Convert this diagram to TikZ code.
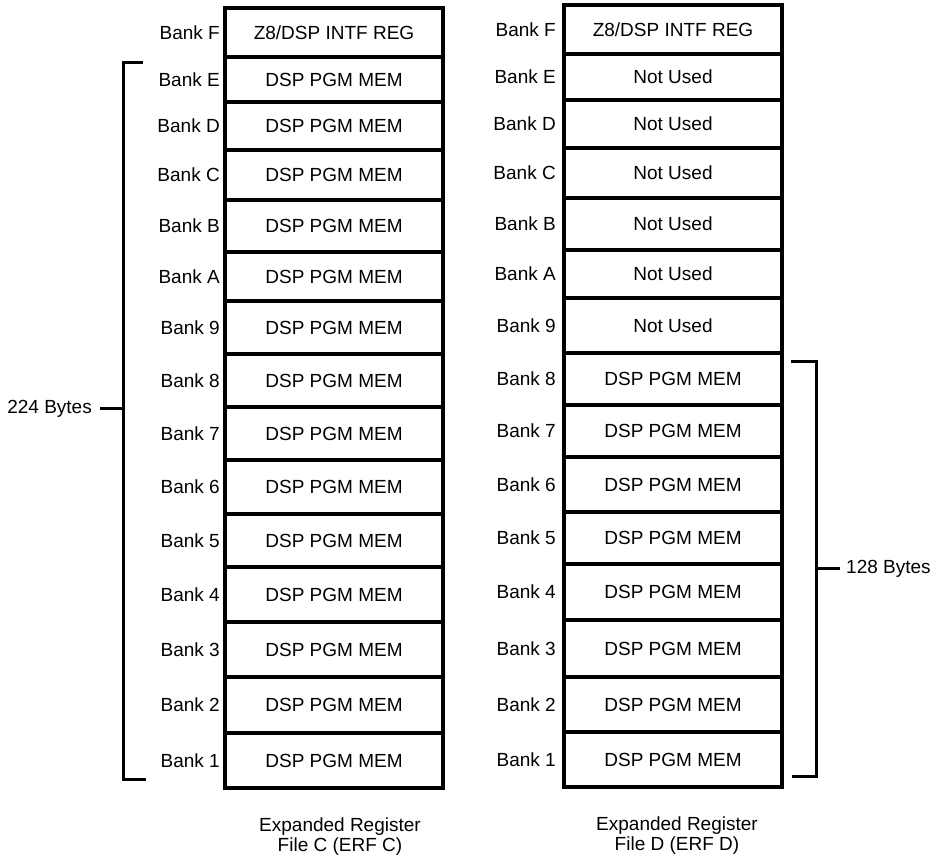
\documentclass[tikz,border=0pt]{standalone}
\usepackage{fontspec}
\setmainfont{Liberation Sans}
\usepackage{tikz}
\usetikzlibrary{positioning, calc}

\tikzset{
  cell/.style={draw, line width=3.2pt, inner sep=0pt, outer sep=0pt, minimum width=218pt, font=\fontsize{19}{20}\selectfont},
  banklabel/.style={inner sep=0pt, font=\fontsize{19}{20}\selectfont},
  brace/.style={line width=3pt},
  caption/.style={align=center, inner sep=0pt, font=\fontsize{19}{20}\selectfont},
}

\begin{document}
\begin{tikzpicture}[x=1pt, y=-1pt]
  \useasboundingbox (0,0) rectangle (938,858);

  % ERF C
  \foreach \b/\t/\ya/\yb in {F/{Z8/DSP INTF REG}/8/57, E/{DSP PGM MEM}/57/102, D/{DSP PGM MEM}/102/150,
      C/{DSP PGM MEM}/150/200, B/{DSP PGM MEM}/200/252, A/{DSP PGM MEM}/252/301, 9/{DSP PGM MEM}/301/354,
      8/{DSP PGM MEM}/354/407, 7/{DSP PGM MEM}/407/460, 6/{DSP PGM MEM}/460/514, 5/{DSP PGM MEM}/514/567,
      4/{DSP PGM MEM}/567/622, 3/{DSP PGM MEM}/622/677, 2/{DSP PGM MEM}/677/733, 1/{DSP PGM MEM}/733/788} {
    \pgfmathsetmacro{\h}{\yb-\ya}
    \node[cell, minimum height=\h pt] (c\b) at (334,{(\ya+\yb)/2}) {\t};
    \node[banklabel, left=5pt of c\b.west] (lc\b) {Bank \b};
  }

  % ERF D
  \foreach \b/\t/\ya/\yb in {F/{Z8/DSP INTF REG}/5/54, E/{Not Used}/54/100, D/{Not Used}/100/148,
      C/{Not Used}/148/198, B/{Not Used}/198/250, A/{Not Used}/250/298, 9/{Not Used}/298/353,
      8/{DSP PGM MEM}/353/405, 7/{DSP PGM MEM}/405/457, 6/{DSP PGM MEM}/457/512, 5/{DSP PGM MEM}/512/564,
      4/{DSP PGM MEM}/564/620, 3/{DSP PGM MEM}/620/677, 2/{DSP PGM MEM}/677/732, 1/{DSP PGM MEM}/732/787} {
    \pgfmathsetmacro{\h}{\yb-\ya}
    \node[cell, minimum height=\h pt] (d\b) at (673,{(\ya+\yb)/2}) {\t};
    \node[banklabel, left=8pt of d\b.west] (ld\b) {Bank \b};
  }

  % brackets
  \coordinate (cbtop) at (143,63);
  \coordinate (cbmid) at (123,409);
  \coordinate (cbbot) at (146,779);
  \coordinate (cbtick) at (100,409);
  \draw[brace] (cbtop) -| (cbmid) |- (cbbot);
  \draw[brace] (cbmid) -- (cbtick);
  \node[banklabel, left=8pt of cbtick] (bytesc) {224 Bytes};

  \coordinate (dbtop) at (791,362);
  \coordinate (dbmid) at (816,569);
  \coordinate (dbbot) at (792,776);
  \coordinate (dbtick) at (840,569);
  \draw[brace] (dbtop) -| (dbmid) |- (dbbot);
  \draw[brace] (dbmid) -- (dbtick);
  \node[banklabel, right=6pt of dbtick] (bytesd) {128 Bytes};

  % captions
  \node[caption, below=30pt of c1, xshift=6pt] (capc) {Expanded Register\\File C (ERF C)};
  \node[caption, below=30pt of d1, xshift=4pt] (capd) {Expanded Register\\File D (ERF D)};
\end{tikzpicture}
\end{document}
